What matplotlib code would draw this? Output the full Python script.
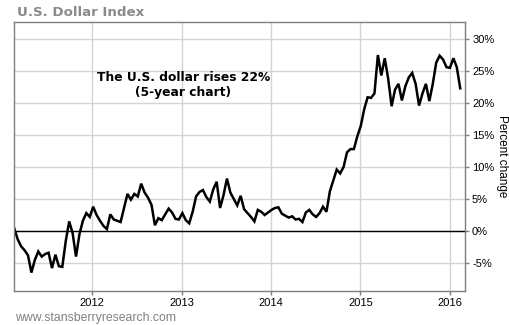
import matplotlib
matplotlib.use("Agg")
import matplotlib.pyplot as plt
import matplotlib.dates as mdates
import pandas as pd
from matplotlib.ticker import FuncFormatter

# Percent change of the U.S. Dollar Index, sampled every two weeks
start_date = "2011-02-18"
pct_change = [
    0.4, -1.3, -2.4, -3.0, -3.8, -6.5, -4.5, -3.2, -4.0, -3.6,
    -3.4, -5.8, -3.7, -5.5, -5.6, -1.6, 1.5, -0.3, -4.0, -0.5,
    1.6, 2.8, 2.2, 3.8, 2.5, 1.6, 0.8, 0.3, 2.6, 1.8,
    1.6, 1.4, 3.6, 5.8, 4.9, 5.8, 5.4, 7.4, 6.0, 5.2,
    4.1, 0.9, 2.0, 1.7, 2.6, 3.5, 2.9, 1.9, 1.8, 2.8,
    1.7, 1.2, 3.0, 5.4, 6.1, 6.4, 5.3, 4.6, 6.5, 7.7,
    3.6, 5.6, 8.2, 6.0, 5.0, 4.0, 5.5, 3.4, 2.8, 2.2,
    1.5, 3.3, 3.0, 2.5, 2.9, 3.3, 3.6, 3.7, 2.7, 2.4,
    2.1, 2.3, 1.8, 1.9, 1.4, 2.9, 3.3, 2.6, 2.2, 2.8,
    3.8, 3.0, 6.2, 7.9, 9.6, 9.0, 10.0, 12.3, 12.8, 12.8,
    14.8, 16.4, 19.0, 20.9, 20.8, 21.5, 27.5, 24.3, 27.0, 23.8,
    19.5, 22.1, 23.0, 20.4, 22.6, 24.0, 24.7, 23.0, 19.6, 21.5,
    23.0, 20.3, 23.0, 26.3, 27.4, 26.8, 25.6, 25.5, 27.0, 25.6,
    22.3,
]
dates = pd.date_range(start_date, periods=len(pct_change), freq="14D")

year_ticks = ["2012", "2013", "2014", "2015", "2016"]
pct_ticks = [-5, 0, 5, 10, 15, 20, 25, 30]

fig = plt.figure(figsize=(5.10, 3.25), dpi=100)
ax = fig.add_axes([0.0275, 0.1046, 0.8845, 0.8277])

ax.plot(dates, pct_change, color="black", linewidth=1.8, solid_joinstyle="miter")
ax.axhline(0, color="black", linewidth=1.0, zorder=1)

ax.set_xlim(pd.Timestamp("2011-02-17"), pd.Timestamp("2016-03-03"))
ax.set_ylim(-9.375, 32.66)

ax.set_xticks([pd.Timestamp(f"{y}-01-01") for y in year_ticks])
ax.xaxis.set_major_formatter(mdates.DateFormatter("%Y"))
ax.set_yticks(pct_ticks)
ax.yaxis.set_major_formatter(FuncFormatter(lambda v, p: f"{v:.0f}%"))
ax.yaxis.tick_right()
ax.yaxis.set_label_position("right")

ax.grid(True, color="#d4d4d4", linewidth=1.0)
ax.set_axisbelow(True)
for s in ax.spines.values():
    s.set_color("#7f7f7f")
    s.set_linewidth(1.0)

ax.tick_params(axis="both", colors="#7f7f7f", labelcolor="black",
               labelsize=8, length=3, width=1.0, pad=2)
for lab in ax.get_xticklabels() + ax.get_yticklabels():
    lab.set_family("Liberation Sans")

ax.set_ylabel("Percent change", rotation=270, labelpad=10,
              fontsize=8.5, family="Liberation Sans", color="black")

ax.text(0.375, 0.764, "The U.S. dollar rises 22%\n(5-year chart)",
        transform=ax.transAxes, ha="center", va="center",
        fontsize=8.8, fontweight="bold", family="DejaVu Sans",
        linespacing=1.2)

fig.text(17 / 510, 1 - 12 / 325, "U.S. Dollar Index", ha="left", va="center",
         fontsize=9.6, fontweight="bold", color="#8a8a8a", family="DejaVu Sans")
fig.text(15 / 510, 1 - 318 / 325, "www.stansberryresearch.com", ha="left",
         va="center", fontsize=8.8, color="#808080", family="Liberation Sans")

fig.savefig("out.png", dpi=100)
